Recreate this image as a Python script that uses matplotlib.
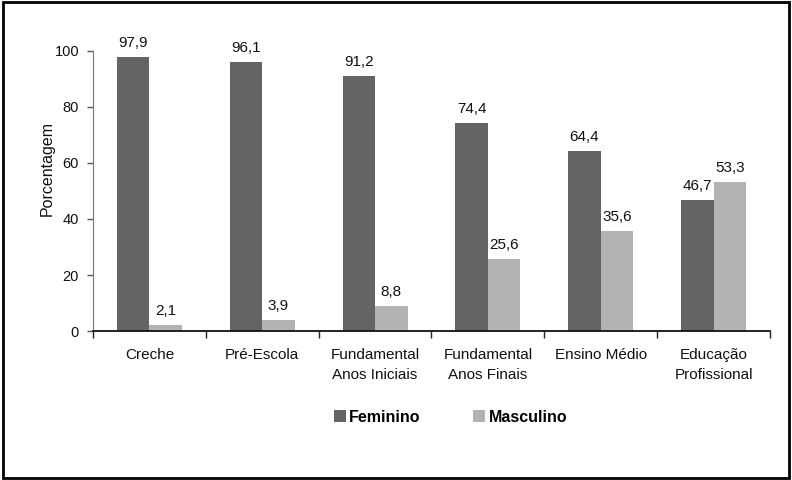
import matplotlib
matplotlib.use("Agg")
import matplotlib.pyplot as plt
import numpy as np
from matplotlib.patches import Rectangle

categories = ["Creche", "Pré-Escola", "Fundamental\nAnos Iniciais", "Fundamental\nAnos Finais",
              "Ensino Médio", "Educação\nProfissional"]
feminino = [97.9, 96.1, 91.2, 74.4, 64.4, 46.7]
masculino = [2.1, 3.9, 8.8, 25.6, 35.6, 53.3]
yticks = [0, 20, 40, 60, 80, 100]

plt.rcParams['font.family'] = ['Liberation Sans', 'DejaVu Sans']

fig = plt.figure(figsize=(7.92, 4.8), dpi=100)
ax = fig.add_axes([0.1174, 0.3104, 0.8548, 0.5834])

x = np.arange(len(categories))
w = 0.288
c_f = '#646464'
c_m = '#b3b3b3'
b1 = ax.bar(x - w/2, feminino, w, color=c_f, label='Feminino', clip_on=False)
b2 = ax.bar(x + w/2, masculino, w, color=c_m, label='Masculino', clip_on=False)

for bars, vals in ((b1, feminino), (b2, masculino)):
    for r, v in zip(bars, vals):
        ax.annotate(f"{v:.1f}".replace('.', ','), (r.get_x() + r.get_width()/2, v),
                    xytext=(0, 5), textcoords='offset points', ha='center', va='bottom',
                    fontsize=11, color='#111111')

ax.set_xlim(-0.5, len(categories) - 0.5)
ax.set_ylim(0, 100)
ax.set_yticks(yticks)
ax.set_yticklabels([str(t) for t in yticks], fontsize=10.5, color='#111111')
ax.set_xticks(x)
ax.set_xticklabels(categories, fontsize=11, color='#111111', linespacing=1.6)
ax.tick_params(axis='x', length=0, pad=12)
ax.set_xticks(np.arange(-0.5, len(categories)), minor=True)
ax.tick_params(axis='x', which='minor', length=5, width=1, color='#222222')
ax.tick_params(axis='y', length=4, width=1, color='#555555', pad=6)

for s in ('top', 'right'):
    ax.spines[s].set_visible(False)
ax.spines['left'].set_color('#777777')
ax.spines['bottom'].set_color('#111111')
ax.spines['bottom'].set_linewidth(1.3)

ax.set_ylabel('Porcentagem', fontsize=11.5, color='#111111')
ax.yaxis.set_label_coords(-0.057, 0.582)

leg = fig.legend(handles=[b1, b2], labels=['Feminino', 'Masculino'], loc='center',
                 bbox_to_anchor=(0.569, 0.131), ncol=2, frameon=False,
                 prop={'weight': 'bold', 'size': 11.5}, handlelength=0.75, handleheight=0.75,
                 handletextpad=0.2, columnspacing=3.3)

fig.patches.append(Rectangle((0.004, 0.005), 0.992, 0.99, transform=fig.transFigure,
                             fill=False, edgecolor='black', linewidth=2))

fig.savefig('out.png', dpi=100)
